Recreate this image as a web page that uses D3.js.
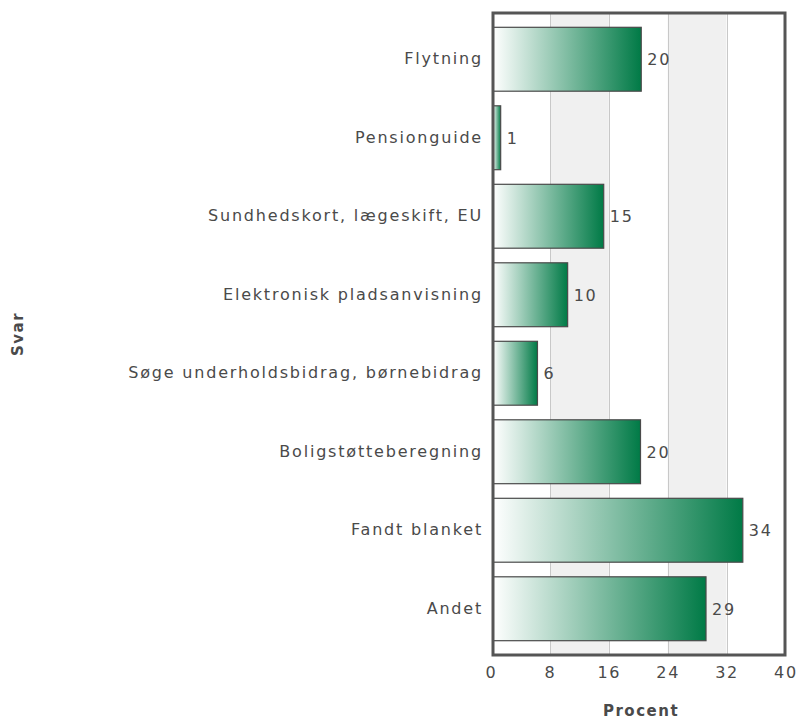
<!DOCTYPE html>
<html><head><meta charset="utf-8">
<script src="https://cdn.jsdelivr.net/npm/d3@7"></script>
<style>
body{margin:0;background:#fff;}
text{font-family:"DejaVu Sans",Verdana,sans-serif;}
</style></head>
<body><svg id="c" width="801" height="720"></svg>
<script>
const categories = ["Flytning","Pensionguide","Sundhedskort, lægeskift, EU","Elektronisk pladsanvisning","Søge underholdsbidrag, børnebidrag","Boligstøtteberegning","Fandt blanket","Andet"];
const values = [20.4, 1.3, 15.3, 10.4, 6.3, 20.3, 34.2, 29.2];
const valueLabels = ["20","1","15","10","6","20","34","29"];
const xTicks = [0, 8, 16, 24, 32, 40];
const xTitle = "Procent";
const yTitle = "Svar";

const svg = d3.select("#c");
const L = 493, R = 785, T = 13, B = 655;
const x = d3.scaleLinear().domain([0, 40]).range([491.1, 785.5]);
const y = d3.scaleBand().domain(categories).range([20, 648]).paddingInner(0.186).paddingOuter(0.093);
const FS = 16, LS = 1.8, TXT = "#4a4a4a";

const defs = svg.append("defs");
const grad = defs.append("linearGradient").attr("id","g").attr("x1","0").attr("x2","1").attr("y1","0").attr("y2","0");
grad.append("stop").attr("offset","0").attr("stop-color","#ffffff");
grad.append("stop").attr("offset","1").attr("stop-color","#007a46");

// alternating bands
for (let i = 0; i < xTicks.length - 1; i++) {
  svg.append("rect").attr("x", x(xTicks[i])).attr("y", T).attr("width", x(xTicks[i+1]) - x(xTicks[i])).attr("height", B - T)
    .attr("fill", i % 2 === 1 ? "#f0f0f0" : "#ffffff");
}
// gridlines
svg.append("g").selectAll("line").data(xTicks.slice(1, -1)).join("line")
  .attr("x1", d => Math.round(x(d)) + 0.5).attr("x2", d => Math.round(x(d)) + 0.5)
  .attr("y1", T).attr("y2", B).attr("stroke", "#c8c8c8").attr("stroke-width", 1);

// bars
const x0 = Math.max(x(0), L);
svg.append("g").selectAll("rect").data(categories).join("rect")
  .attr("x", x0).attr("y", d => y(d))
  .attr("width", (d, i) => x(values[i]) - x0).attr("height", y.bandwidth())
  .attr("fill", "url(#g)").attr("stroke", "#4a4a4a").attr("stroke-width", 1.2);

// value labels
svg.append("g").selectAll("text").data(categories).join("text")
  .attr("x", (d, i) => x(values[i]) + 6).attr("y", d => y(d) + y.bandwidth() / 2)
  .attr("dy", "0.36em").attr("font-size", FS).attr("letter-spacing", LS).attr("fill", TXT)
  .text((d, i) => valueLabels[i]);

// plot frame
svg.append("rect").attr("x", L).attr("y", T).attr("width", R - L).attr("height", B - T)
  .attr("fill", "none").attr("stroke", "#555").attr("stroke-width", 3);

// y axis labels
const yAxis = d3.axisLeft(y).tickSize(0).tickPadding(10);
const ya = svg.append("g").attr("transform", `translate(${L},0)`).call(yAxis);
ya.select(".domain").remove();
ya.selectAll("text").attr("font-size", FS).attr("letter-spacing", LS).attr("fill", TXT)
  .attr("font-family", "DejaVu Sans, Verdana, sans-serif");

// x axis labels
const xAxis = d3.axisBottom(x).tickValues(xTicks).tickSize(0).tickPadding(12);
const xa = svg.append("g").attr("transform", `translate(0,${B})`).call(xAxis);
xa.select(".domain").remove();
xa.selectAll("text").attr("font-size", FS).attr("letter-spacing", LS).attr("fill", TXT)
  .attr("font-family", "DejaVu Sans, Verdana, sans-serif");

svg.append("text").attr("x", 641).attr("y", 716).attr("text-anchor", "middle")
  .attr("font-size", 15).attr("font-weight", "bold").attr("letter-spacing", 1.5).attr("fill", TXT).text(xTitle);
svg.append("text").attr("transform", `translate(23,${(T + B) / 2}) rotate(-90)`).attr("text-anchor", "middle")
  .attr("font-size", 15).attr("font-weight", "bold").attr("letter-spacing", 1.5).attr("fill", TXT).text(yTitle);
</script></body></html>
